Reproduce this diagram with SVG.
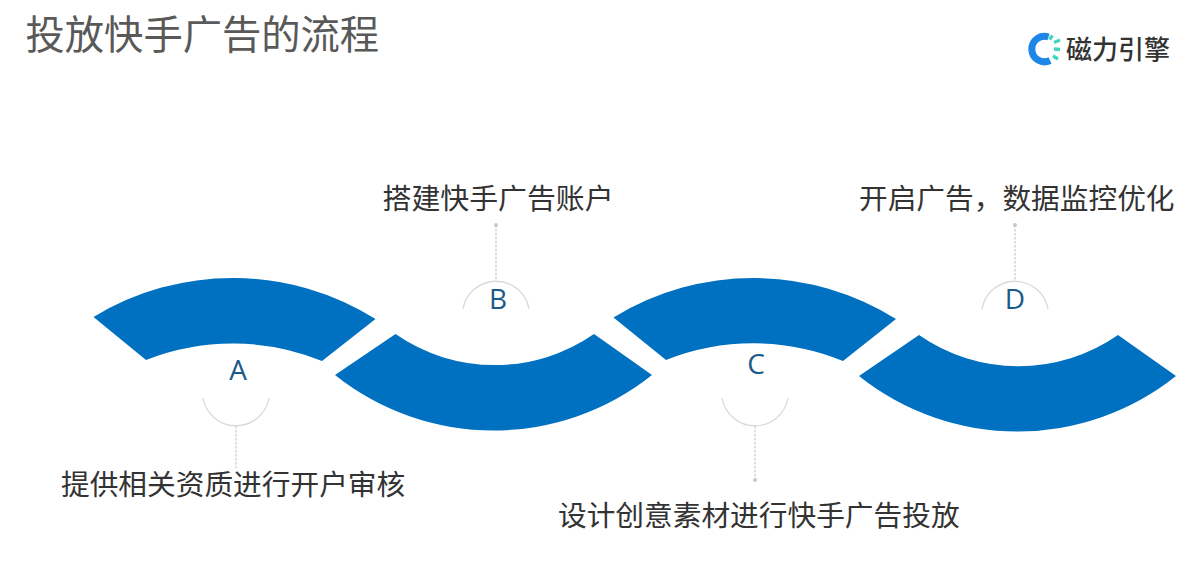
<svg xmlns="http://www.w3.org/2000/svg" width="1190" height="571" viewBox="0 0 1190 571">
<style>
.t{font-family:"Noto Sans CJK SC","Noto Sans",sans-serif;fill:#333}
.title{font-size:39.3px;fill:#595959}
.lab{font-size:28.7px}
.let{font-family:"Open Sans","Noto Sans",sans-serif;font-size:28px;fill:#1a5a8a;text-anchor:middle}
.band{fill:#0070c0}
.arc{fill:none;stroke:#d9d9d9;stroke-width:1.3}
.dash{fill:none;stroke:#c8c8c8;stroke-width:1.2;stroke-dasharray:2.5 1.5}
.dot{fill:#c8c8c8}
</style>
<rect width="1190" height="571" fill="#fff"/>
<text class="t title" x="25.500" y="49">投放快手广告的流程</text>
<g id="logo">
<path d="M1048.500 37A12.700 12.700 0 1 0 1050 60.500" fill="none" stroke="#1e86e6" stroke-width="7"/>
<g stroke="#3fd6c0" stroke-width="3.400" fill="none"><path d="M1049.500 39.500l3-4M1054 42.500l6-2.500M1054 49l6 .5M1053 56l5 3"/></g>
<text class="t" x="1066" y="59" font-size="26" font-weight="500" fill="#4a4a4a">磁力引擎</text>
</g>
<g id="connectors">
<path class="dash" d="M236 426V468"/>
<path class="dash" d="M496 225V281"/>
<circle class="dot" cx="496" cy="225" r="2"/>
<path class="dash" d="M755 426V480"/>
<circle class="dot" cx="755" cy="480" r="2"/>
<path class="dash" d="M1015 225V281"/>
<circle class="dot" cx="1015" cy="225" r="2"/>
</g>
<g id="node-a">
<path class="band" d="M93.500 317A268 268 0 0 1 375.500 319L322 361A236 236 0 0 0 146 360Z"/>
<path class="arc" d="M203 398A33.500 33.500 0 0 0 269 398"/>
<text class="let" x="238" y="380">A</text>
<text class="t lab" x="61" y="495">提供相关资质进行开户审核</text>
</g>
<g id="node-b">
<path class="band" d="M335 375A254 254 0 0 0 652 375L594 334A174 174 0 0 1 395.500 334Z"/>
<path class="arc" d="M463 309A33.500 33.500 0 0 1 529 309"/>
<text class="let" x="498" y="309">B</text>
<text class="t lab" x="382.500" y="209" style="font-size:28.900px">搭建快手广告账户</text>
</g>
<g id="node-c">
<path class="band" d="M613.500 317.500A268 268 0 0 1 896 319L843 361A236 236 0 0 0 666 360Z"/>
<path class="arc" d="M722 398A33.500 33.500 0 0 0 788 398"/>
<text class="let" x="756" y="374">C</text>
<text class="t lab" x="558" y="526">设计创意素材进行快手广告投放</text>
</g>
<g id="node-d">
<path class="band" d="M859 376A254 254 0 0 0 1176 376L1118 335A174 174 0 0 1 919 335Z"/>
<path class="arc" d="M982 309A33.500 33.500 0 0 1 1048 309"/>
<text class="let" x="1015" y="309">D</text>
<text class="t lab" x="859" y="209">开启广告，数据监控优化</text>
</g>
</svg>
